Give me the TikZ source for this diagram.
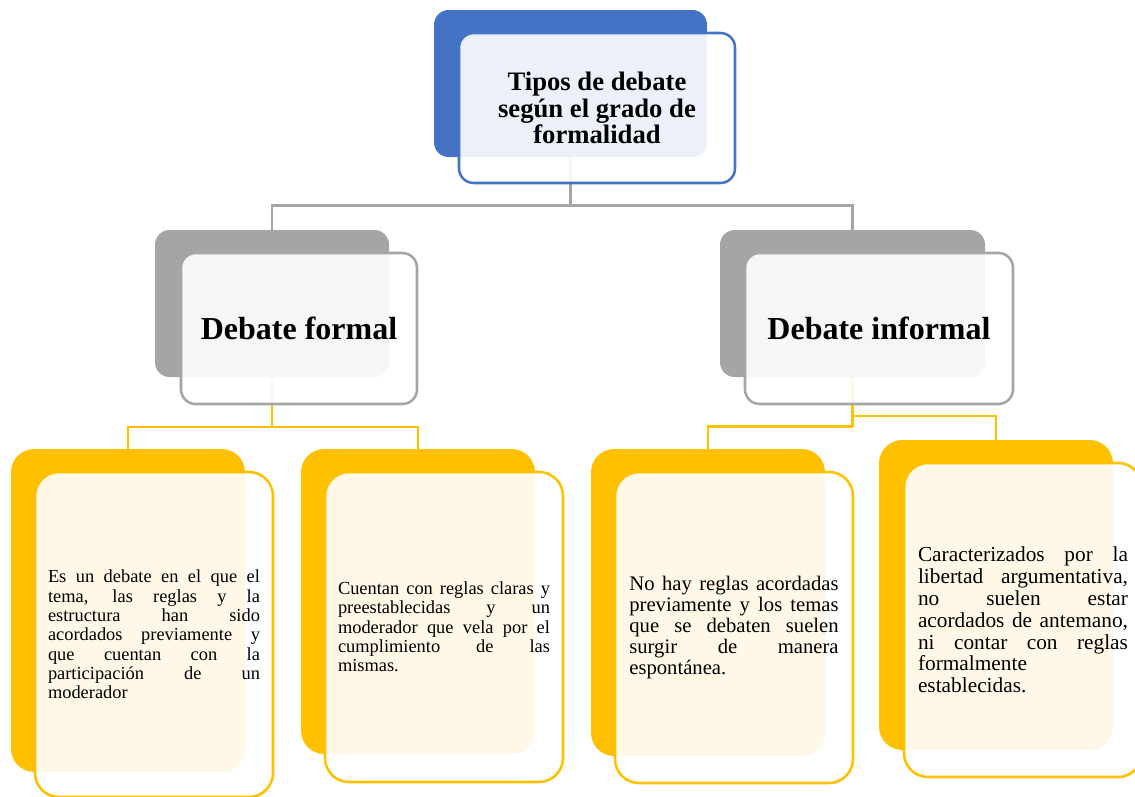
\documentclass[tikz,border=0pt]{standalone}
\usepackage{fontspec}
\setmainfont{Liberation Serif}
\definecolor{accblue}{HTML}{4472C4}
\definecolor{accgray}{HTML}{A5A5A5}
\definecolor{accgold}{HTML}{FFC000}
\tolerance=10000
\hbadness=10000
\hyphenpenalty=10000
\exhyphenpenalty=10000
\pgfdeclarelayer{wires}
\pgfsetlayers{wires,main}
\begin{document}
\begin{tikzpicture}[x=0.75pt,y=-0.75pt,
  shapebox/.style={rectangle, inner sep=0pt, outer sep=0pt, line width=1.9pt},
  backbox/.style={shapebox, fill=#1, draw=none},
  frontbox/.style={shapebox, draw=#1, fill=white, fill opacity=0.9, text opacity=1},
  wire/.style={line width=1.9pt, draw=#1},
  headtext/.style={font=\bfseries\fontsize{20}{20}\selectfont, align=center},
  leveltext/.style={font=\bfseries\fontsize{24}{26}\selectfont, align=center},
  bodytext/.style={text width=#1, align=justify}
]
\useasboundingbox (0,0) rectangle (1135,796);

% junction points of the connector trees
\coordinate (j0) at (570.5,205.5);
\coordinate (j1) at (272,427);
\coordinate (j2) at (852.5,416);
\coordinate (j3) at (852.5,426.5);

% back plates
\node[backbox=accblue, rounded corners=11pt, minimum width=204.75pt, minimum height=110.25pt] (rootback) at (570.5,83.5) {};
\node[backbox=accgray, rounded corners=11pt, minimum width=175.5pt, minimum height=110.25pt] (formalback) at (272,303.5) {};
\node[backbox=accgray, rounded corners=11pt, minimum width=198.75pt, minimum height=110.25pt] (informalback) at (852.5,303.5) {};
\node[backbox=accgold, rounded corners=17.5pt, minimum width=175.5pt, minimum height=242.25pt] (b1back) at (128,610.5) {};
\node[backbox=accgold, rounded corners=17.5pt, minimum width=175.5pt, minimum height=228.75pt] (b2back) at (418,601.5) {};
\node[backbox=accgold, rounded corners=17.5pt, minimum width=175.5pt, minimum height=230.25pt] (b3back) at (708,602.5) {};
\node[backbox=accgold, rounded corners=17.5pt, minimum width=175.5pt, minimum height=232.5pt] (b4back) at (996,595) {};

% connectors, kept beneath all plates
\begin{pgfonlayer}{wires}
\draw[wire=accgray] (rootback.south) -- (j0);
\draw[wire=accgray] (j0) -| (formalback.north);
\draw[wire=accgray] (j0) -| (informalback.north);
\draw[wire=accgold] (formalback.south) -- (j1);
\draw[wire=accgold] (j1) -| (b1back.north);
\draw[wire=accgold] (j1) -| (b2back.north);
\draw[wire=accgold] (informalback.south) -- (j3);
\draw[wire=accgold] (j3) -| (b3back.north);
\draw[wire=accgold] (j2) -| (b4back.north);
\end{pgfonlayer}

% front cards with their texts
\node[frontbox=accblue, rounded corners=11pt, minimum width=207pt, minimum height=112.5pt, headtext] (root) at (597,108)
  {Tipos de debate\\según el grado de\\formalidad};
\node[frontbox=accgray, rounded corners=11pt, minimum width=177pt, minimum height=113.25pt, leveltext] (formal) at (299,328.5)
  {Debate formal};
\node[frontbox=accgray, rounded corners=11pt, minimum width=201pt, minimum height=113.25pt, leveltext] (informal) at (879,328.5)
  {Debate informal};

\node[frontbox=accgold, rounded corners=18pt, minimum width=178.5pt, minimum height=243.75pt,
      bodytext=159pt, font=\fontsize{13.8}{14.5}\selectfont] (b1) at (154,634.5)
  {Es un debate en el que el\linebreak tema, las reglas y la\linebreak estructura han sido\linebreak acordados previamente y\linebreak que cuentan con la\linebreak participación de un\linebreak moderador};
\node[frontbox=accgold, rounded corners=18pt, minimum width=178.5pt, minimum height=232.5pt,
      bodytext=159pt, font=\fontsize{13.8}{14.5}\selectfont] (b2) at (444,627)
  {Cuentan con reglas claras y\linebreak preestablecidas y un\linebreak moderador que vela por el\linebreak cumplimiento de las\linebreak mismas.};
\node[frontbox=accgold, rounded corners=18pt, minimum width=178.5pt, minimum height=233.25pt,
      bodytext=157pt, font=\fontsize{15.5}{15.6}\selectfont] (b3) at (734,627.5)
  {No hay reglas acordadas\linebreak previamente y los temas\linebreak que se debaten suelen\linebreak surgir de manera\linebreak espontánea.};
\node[frontbox=accgold, rounded corners=18pt, minimum width=178.5pt, minimum height=235.5pt,
      bodytext=157.5pt, font=\fontsize{16}{16.4}\selectfont] (b4) at (1023,620)
  {Caracterizados por la\linebreak libertad argumentativa,\linebreak no suelen estar\linebreak acordados de antemano,\linebreak ni contar con reglas\linebreak formalmente\linebreak establecidas.};
\end{tikzpicture}
\end{document}
